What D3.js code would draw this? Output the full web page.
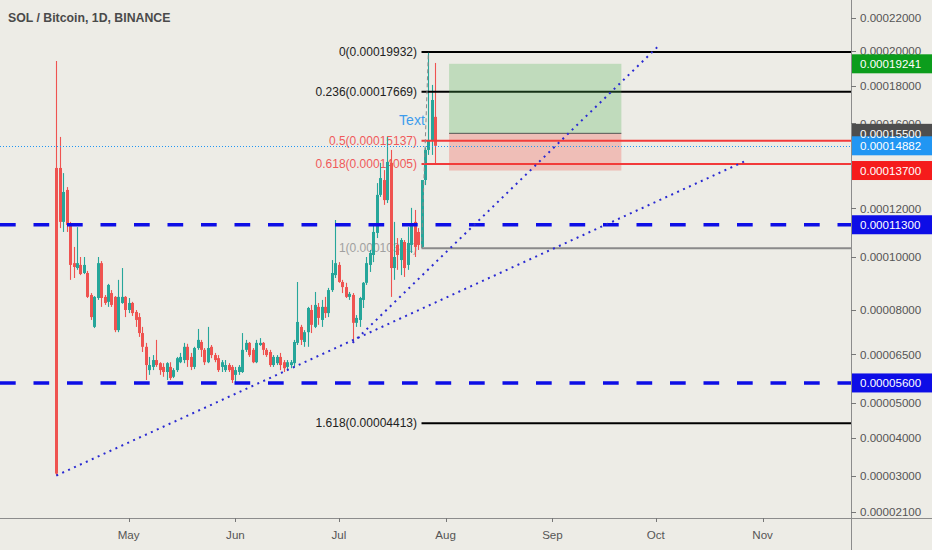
<!DOCTYPE html>
<html><head><meta charset="utf-8">
<script src="https://cdn.jsdelivr.net/npm/d3@7"></script>
<style>html,body{margin:0;padding:0;background:#edece6;}svg{display:block;}</style>
</head><body>
<svg id="c" width="932" height="550"></svg>
<script>
// ---- data (prices in satoshis, 1 sat = 0.00000001 BTC) ----
const firstDay = new Date(2020, 3, 10);
const lastDay = new Date(2020, 6, 29);
const open = [13820,13820,11420,12810,11290,9750,9560,9680,9370,9370,
8550,7420,8440,9750,8480,8300,8620,8480,7310,8260,
8480,8010,8260,7940,7760,7210,6750,6000,6100,6320,
6220,6100,5940,6100,5790,6000,6250,6320,6750,6420,
6100,6710,6910,6650,6250,6750,6480,6380,6100,6000,
6160,6100,5850,5940,5940,6650,6880,6650,6250,6810,
6880,6650,6580,6160,6220,6420,6250,6100,6160,6220,
6880,7420,6910,7240,8010,7420,8120,7660,8120,7900,
8730,9290,9680,9030,8840,8480,8550,7560,7660,8370,
9000,9680,10070,10960,12590,13260,12360,14060,9560,10470,
9870,10590,9680,10470,11420,11000,10390,13260,14680,15170,
16340];
const high = [19400,15320,13580,12940,11420,10390,11200,9990,9990,9450,
8620,8510,9990,9830,8550,8960,8730,8510,9110,9560,
8510,8440,8300,8010,7900,7420,6880,6420,6480,6980,
6250,6220,6250,6250,6060,6420,6550,6880,6850,6550,
6750,7350,6980,6710,7420,6810,6550,6480,6320,6320,
6220,6160,6100,6160,7210,6980,6910,6710,6980,7040,
6910,6710,6650,6480,6480,6550,6320,6320,6320,6980,
9030,7490,7310,8120,8190,8660,8260,8370,8480,8810,
9870,11500,9790,9110,9000,8660,8620,7830,8480,9030,
9990,10270,11370,13120,14060,13720,15320,14680,11420,10750,
10750,10670,11200,12020,11930,11160,11000,14800,19932,18050,
19290];
const low = [3000,11160,11000,11000,9110,9180,9490,9290,9330,8440,
7660,7380,8370,8120,8190,8120,8120,7240,7240,8230,
7760,7900,7800,7420,7080,6580,5690,5850,6000,6100,
5850,5790,5690,5690,5750,5940,6220,6220,6100,6000,
6030,6650,6420,6160,6220,6380,6250,5940,5940,5940,
5940,5600,5600,5850,5910,6580,6420,6220,6220,6780,
6480,6420,6100,6100,6160,6000,5940,6030,6060,6100,
6810,6810,6750,6750,7210,7380,7490,7420,7730,7760,
8660,9180,9000,8620,8440,8370,6880,7420,7420,8080,
8920,9410,9790,10750,12500,12150,12230,8480,9110,9490,
9290,9220,9490,10150,9990,10270,10341,13030,14440,14440,
13960];
const close = [3050,11420,12720,11290,9680,9600,9750,9330,9680,8480,
7760,8480,9750,8440,8260,8920,8190,7310,8480,8480,
8010,8260,7900,7660,7210,6750,6160,6160,6320,6160,
6000,5940,6220,5750,6000,6380,6420,6750,6320,6100,
6710,6980,6650,6250,6710,6480,6320,6000,6250,6160,
6000,5690,6000,6100,6650,6880,6480,6250,6880,6880,
6650,6480,6160,6420,6420,6160,6060,6250,6250,6910,
7590,6980,7240,8080,7490,8190,7730,8120,7900,8730,
9370,9750,9030,8840,8480,8590,7560,7730,8440,9000,
9750,10150,11000,12590,13350,12360,14100,9560,9990,10070,
10670,9560,10550,11290,10390,10470,13260,14680,15170,17230,
14882];
const monthLabels = ["May","Jun","Jul","Aug","Sep","Oct","Nov"];
const monthDates = [new Date(2020,4,1),new Date(2020,5,1),new Date(2020,6,1),new Date(2020,7,1),new Date(2020,8,1),new Date(2020,9,1),new Date(2020,10,1)];
const priceTicks = [22000,20000,18000,16000,12000,10000,8000,6500,5000,4000,3000,2100];
const fibRatios = [0,0.236,0.5,0.618,1,1.618];
const fibColors = ["#000","#000","#f23a3a","#f23a3a","#8a8a8a","#000"];
const fibTextColors = ["#222","#222","#f05a5a","#f05a5a","#a0a0a0","#222"];
const fibHigh = 19932.4, fibLow = 10340.7;
const fibHighDate = new Date(2020,6,27), fibLowDate = new Date(2020,6,25);
const supportLevels = [11300, 5600];
const currentPrice = 14882;
const entry = 15500, target = 19241, stop = 13700;
const posStart = new Date(2020,7,2), posEnd = new Date(2020,8,21);
const trend1 = [[new Date(2020,3,10), 3000],[new Date(2020,9,27), 14150]];
const trend2 = [[new Date(2020,6,5), 6880],[new Date(2020,9,1,12), 20230]];
const textNote = {date: new Date(2020,6,18,12), price: 15920, text: "Text"};
const axisBoxes = [
  {v:19241, c:"#0c9d1c"},{v:15500, c:"#4e4e4e"},{v:14882, c:"#2196f3"},
  {v:13700, c:"#f51c1c"},{v:11300, c:"#0d0de6"},{v:5600, c:"#0d0de6"}];

// ---- scales ----
const days = d3.timeDay.range(firstDay, d3.timeDay.offset(lastDay,1));
const candles = days.map((d,i)=>({d, o:open[i], h:high[i], l:low[i], c:close[i]}));
const x = d3.scaleTime().domain([firstDay, lastDay]).range([56.3, 435.3]);
const OFFSET = 10000; // price scale is logarithmic in (price + offset)
const yl = d3.scaleLog().domain([22000+OFFSET, 2100+OFFSET]).range([18, 512]);
const y = v => yl(v + OFFSET);
const fmt = v => (v/1e8).toFixed(8);

const svg = d3.select("#c");
const AX = 851, AY = 518;
const font = "'Liberation Sans', Arial, sans-serif";
svg.append("rect").attr("width",932).attr("height",550).attr("fill","#edece6");
svg.append("defs").append("clipPath").attr("id","plot").append("rect").attr("width",AX).attr("height",AY);
const g = svg.append("g").attr("clip-path","url(#plot)");

// fib labels (under candles)
const fibVals = fibRatios.map(r => fibHigh - r*(fibHigh - fibLow));
g.selectAll("text.fib").data(fibRatios).join("text")
  .attr("x",417).attr("y",(r,i)=>y(fibVals[i])).attr("dy","0.35em")
  .attr("text-anchor","end").attr("font-family",font).attr("font-size",12)
  .attr("fill",(r,i)=>fibTextColors[i])
  .text((r,i)=>`${r}(${fmt(Math.round(fibVals[i]))})`);

// candles
const up = "#26a69a", dn = "#ef5350";
const cg = g.append("g");
cg.selectAll("line").data(candles).join("line")
  .attr("x1",d=>Math.round(x(d.d))+0.5).attr("x2",d=>Math.round(x(d.d))+0.5)
  .attr("y1",d=>y(d.h)).attr("y2",d=>y(d.l))
  .attr("stroke",d=>d.c>=d.o?up:dn).attr("stroke-width",1.1);
cg.selectAll("rect").data(candles).join("rect")
  .attr("x",d=>Math.round(x(d.d))-1).attr("width",3)
  .attr("y",d=>Math.min(y(d.o),y(d.c)))
  .attr("height",d=>Math.max(1,Math.abs(y(d.o)-y(d.c))))
  .attr("fill",d=>d.c>=d.o?up:dn);

// fib lines
const fx = x(fibLowDate);
g.selectAll("line.fib").data(fibVals).join("line")
  .attr("x1",fx).attr("x2",AX).attr("y1",v=>y(v)).attr("y2",v=>y(v))
  .attr("stroke",(v,i)=>fibColors[i]).attr("stroke-width",2);
g.append("line").attr("x1",x(fibLowDate)).attr("y1",y(fibLow))
  .attr("x2",x(fibHighDate)).attr("y2",y(fibHigh))
  .attr("stroke","#8a8a8a").attr("stroke-width",1).attr("stroke-dasharray","4,3");

// position box
const px1 = x(posStart), px2 = x(posEnd);
g.append("rect").attr("x",px1).attr("width",px2-px1).attr("y",y(target)).attr("height",y(entry)-y(target))
  .attr("fill","#4caf50").attr("opacity",0.28);
g.append("rect").attr("x",px1).attr("width",px2-px1).attr("y",y(entry)).attr("height",y(stop)-y(entry))
  .attr("fill","#f44336").attr("opacity",0.27);
g.append("line").attr("x1",px1).attr("x2",px2).attr("y1",y(entry)).attr("y2",y(entry))
  .attr("stroke","#555").attr("stroke-width",1);

// current price line
g.append("line").attr("x1",0).attr("x2",AX).attr("y1",Math.round(y(currentPrice))+0.5).attr("y2",Math.round(y(currentPrice))+0.5)
  .attr("stroke","#2196f3").attr("stroke-width",1).attr("stroke-dasharray","1,2");

// support / resistance dashed
g.selectAll("line.sr").data(supportLevels).join("line")
  .attr("x1",0).attr("x2",AX).attr("y1",v=>y(v)).attr("y2",v=>y(v))
  .attr("stroke","#0d0de6").attr("stroke-width",3.5).attr("stroke-dasharray","15.7,17.8");

// dotted trend lines
g.selectAll("line.tl").data([trend1,trend2]).join("line")
  .attr("x1",t=>x(t[0][0])).attr("y1",t=>y(t[0][1]))
  .attr("x2",t=>x(t[1][0])).attr("y2",t=>y(t[1][1]))
  .attr("stroke","#2a2ad2").attr("stroke-width",2).attr("stroke-dasharray","2,4.5");

// text note
g.append("text").attr("x",x(textNote.date)).attr("y",y(textNote.price))
  .attr("font-family",font).attr("font-size",14).attr("fill","#3d9cec").text(textNote.text);

// ---- axes ----
svg.append("line").attr("x1",AX+0.5).attr("x2",AX+0.5).attr("y1",0).attr("y2",550).attr("stroke","#8c8c8c");
svg.append("line").attr("x1",0).attr("x2",932).attr("y1",AY+0.5).attr("y2",AY+0.5).attr("stroke","#8c8c8c");

const yt = svg.append("g");
yt.selectAll("line").data(priceTicks).join("line")
  .attr("x1",AX).attr("x2",AX+5).attr("y1",v=>Math.round(y(v))+0.5).attr("y2",v=>Math.round(y(v))+0.5).attr("stroke","#777");
yt.selectAll("text").data(priceTicks).join("text")
  .attr("x",860).attr("y",v=>y(v)).attr("dy","0.36em")
  .attr("font-family",font).attr("font-size",11.6).attr("fill","#555").text(fmt);

const xt = svg.append("g");
xt.selectAll("line").data(monthDates).join("line")
  .attr("x1",d=>Math.round(x(d))+0.5).attr("x2",d=>Math.round(x(d))+0.5).attr("y1",AY).attr("y2",AY+4).attr("stroke","#777");
xt.selectAll("text").data(monthDates).join("text")
  .attr("x",d=>x(d)).attr("y",539).attr("text-anchor","middle")
  .attr("font-family",font).attr("font-size",11.6).attr("fill","#555")
  .text((d,i)=>monthLabels[i]);

// axis price boxes
const bx = svg.append("g");
bx.selectAll("rect").data(axisBoxes).join("rect")
  .attr("x",AX+1).attr("width",80).attr("y",b=>y(b.v)-9.5).attr("height",19).attr("fill",b=>b.c);
bx.selectAll("text").data(axisBoxes).join("text")
  .attr("x",860).attr("y",b=>y(b.v)).attr("dy","0.36em")
  .attr("font-family",font).attr("font-size",11.6).attr("fill","#fff").text(b=>fmt(b.v));

// title
svg.append("text").attr("x",8).attr("y",21.5).attr("font-family",font).attr("font-size",12.3)
  .attr("font-weight","bold").attr("fill","#4a4a4a").text("SOL / Bitcoin, 1D, BINANCE");
</script>
</body></html>
